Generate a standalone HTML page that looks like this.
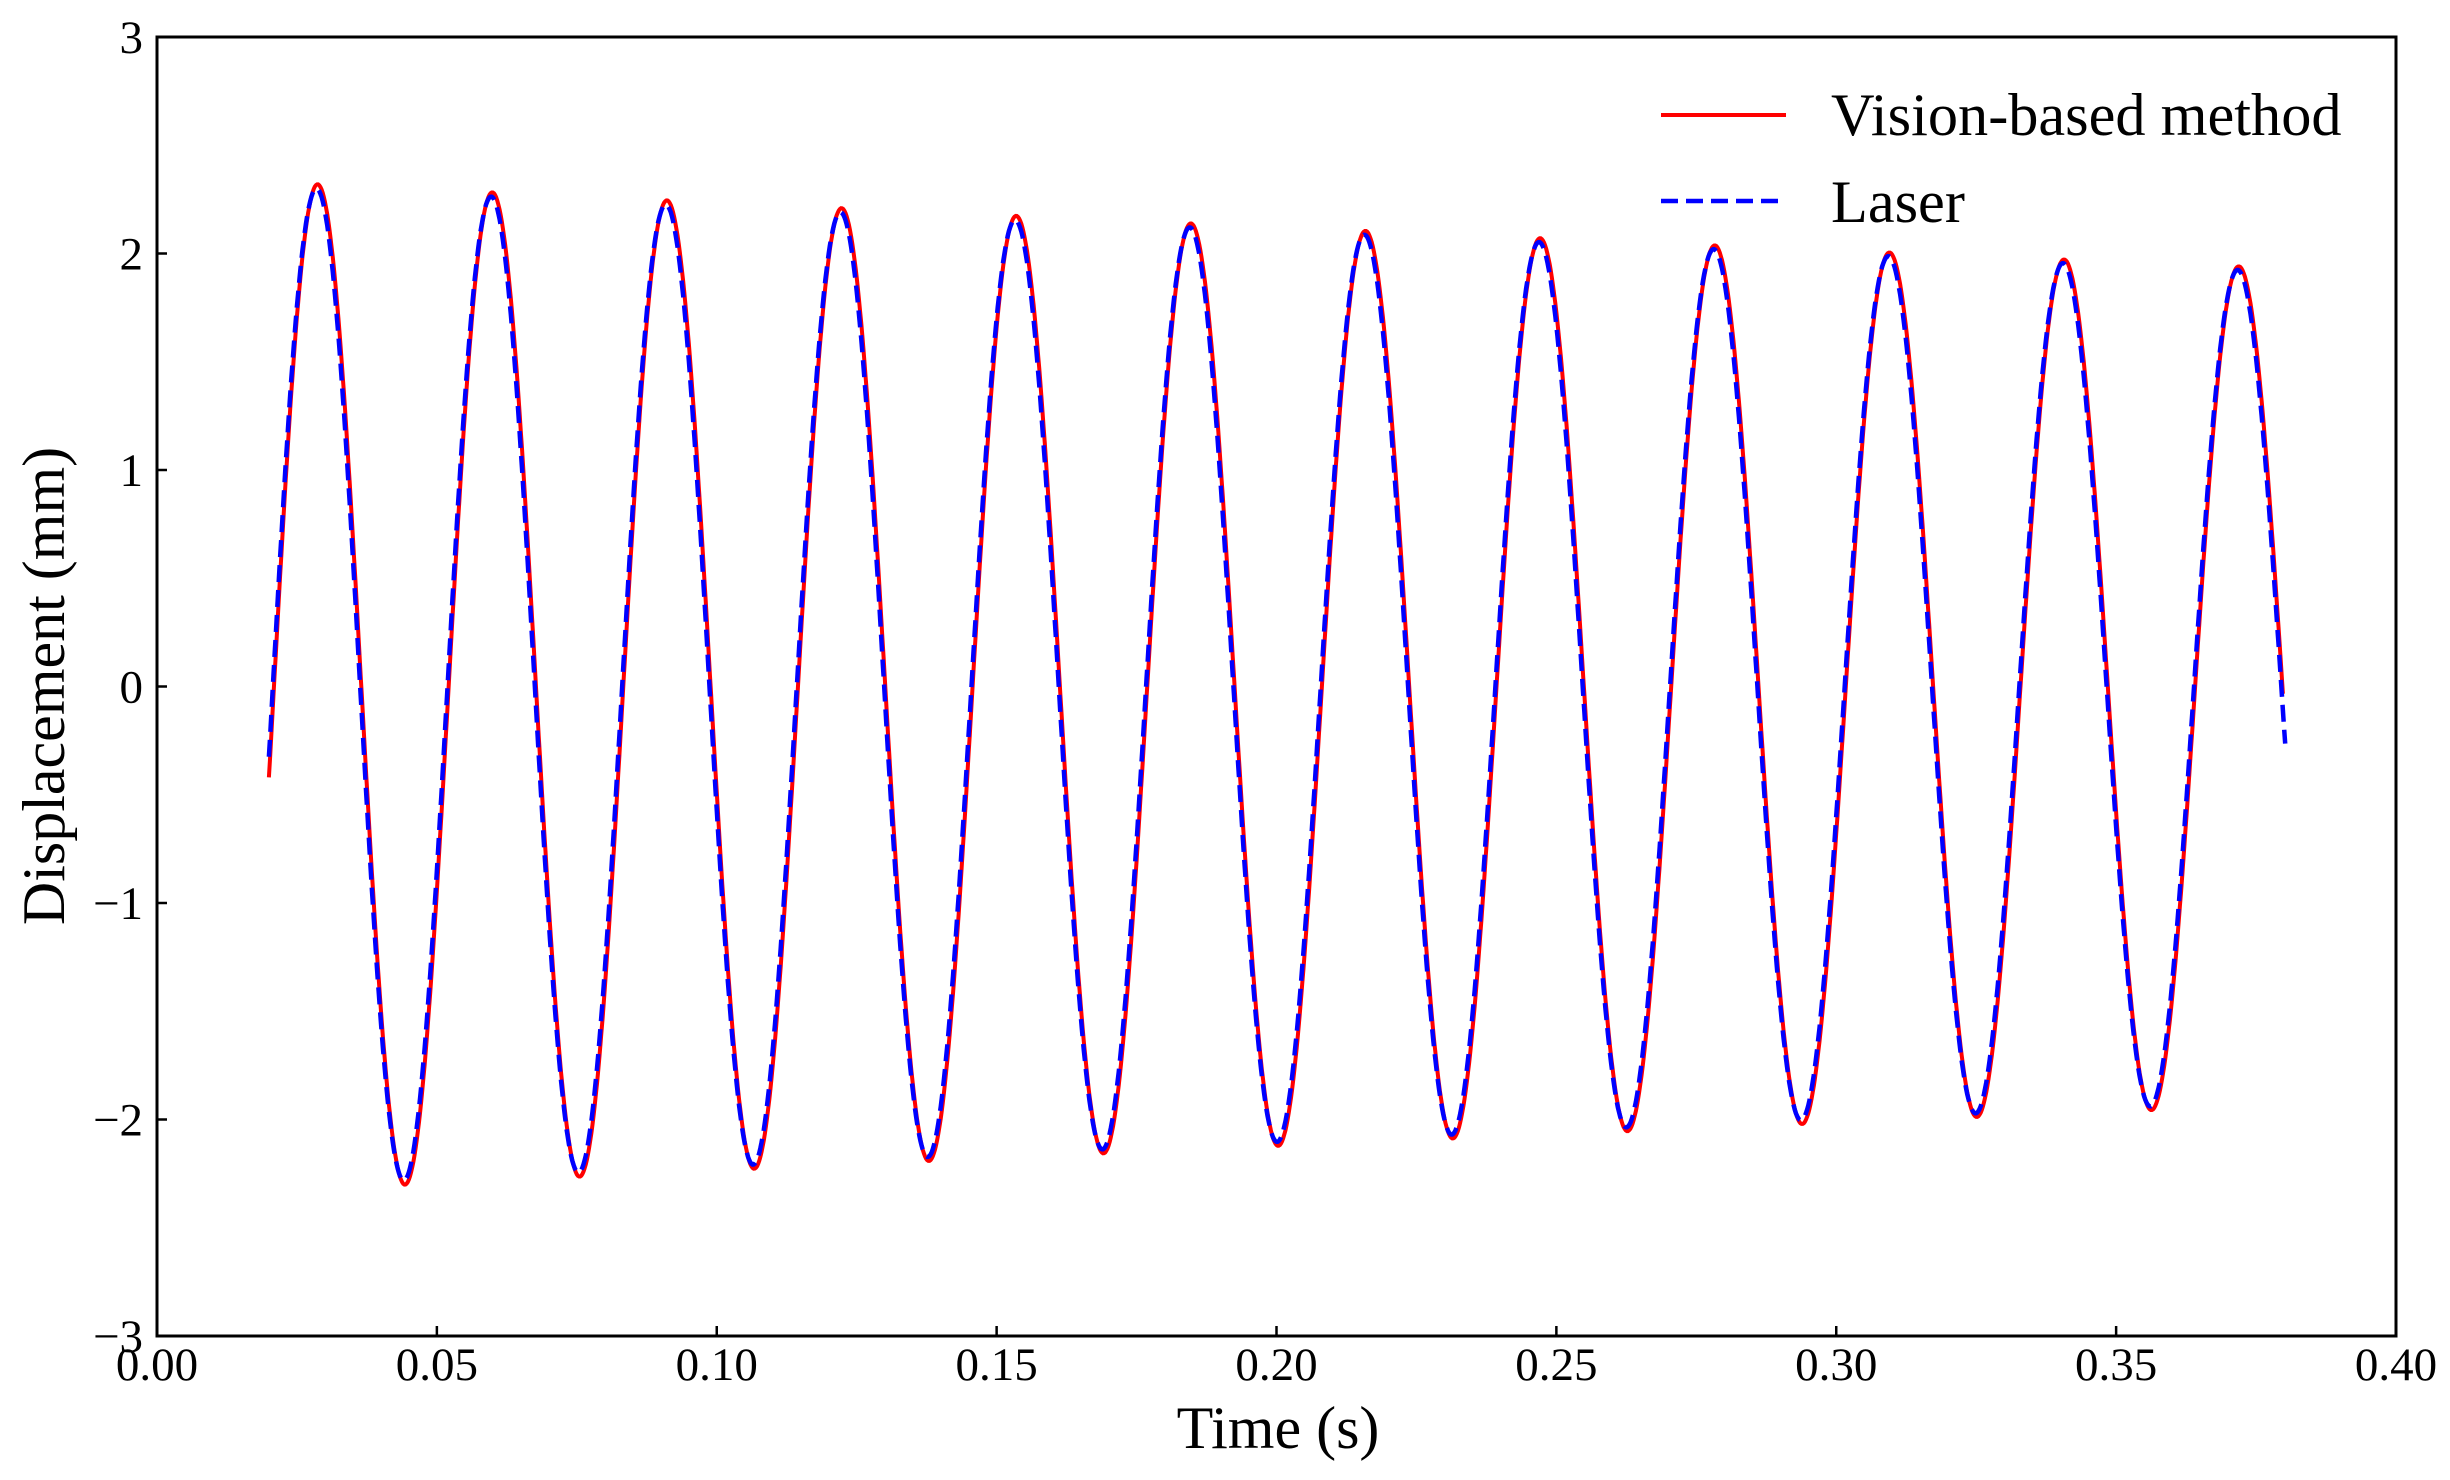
<!DOCTYPE html>
<html><head><meta charset="utf-8"><style>
html,body{margin:0;padding:0;background:#fff;}
svg{display:block;}
text{font-family:"Liberation Serif",serif;fill:#000;}
</style></head><body>
<svg id="s" width="2450" height="1480" viewBox="0 0 2450 1480" xmlns="http://www.w3.org/2000/svg">
<rect width="2450" height="1480" fill="#fff"/>
<g id="plot"></g>
<rect x="157" y="37" width="2239" height="1299" fill="none" stroke="#000" stroke-width="3"/>
<g id="ticks" stroke="#000" stroke-width="2.5"></g>
<g id="labels" font-size="47"></g>
<text x="1278" y="1448" font-size="60" text-anchor="middle">Time (s)</text>
<text transform="translate(64,686) rotate(-90)" font-size="60" text-anchor="middle">Displacement (mm)</text>
<line x1="1661" y1="115" x2="1786" y2="115" stroke="#f00" stroke-width="4"/>
<line x1="1661" y1="201" x2="1786" y2="201" stroke="#00f" stroke-width="4.5" stroke-dasharray="17,8"/>
<text x="1831" y="135" font-size="60.3">Vision-based method</text>
<text x="1831" y="222" font-size="60.3">Laser</text>
</svg>
<script>
var X0=157,W=2239,Y0=686.5,K=216.5,NS="http://www.w3.org/2000/svg";
function px(t){return X0+t/0.4*W;}function py(v){return Y0-v*K;}
function el(n,a,p){var e=document.createElementNS(NS,n);for(var k in a)e.setAttribute(k,a[k]);p.appendChild(e);return e;}
var tk=document.getElementById('ticks'),lb=document.getElementById('labels');
for(var i=0;i<=8;i++){var x=px(i*0.05);if(i>0&&i<8)el('line',{x1:x,y1:1336,x2:x,y2:1326},tk);
var t=el('text',{x:x,y:1380,'text-anchor':'middle'},lb);t.textContent=(i*0.05).toFixed(2);}
for(var v=-3;v<=3;v++){var y=py(v);if(v>-3&&v<3)el('line',{x1:157,y1:y,x2:167,y2:y},tk);
var t=el('text',{x:143,y:y+16,'text-anchor':'end'},lb);t.textContent=(v<0?'\u2212':'')+Math.abs(v);}
function sig(t,ph,a){var A=(2.32+a)*Math.exp(-0.52*(t-0.0284));return A*Math.sin(2*Math.PI*32.05*(t-0.0207+ph));}
function path(ph,a,t1,t2){var d='';for(var t=t1;t<=t2+1e-9;t+=0.0002){d+=(d?'L':'M')+px(t).toFixed(1)+','+py(sig(t,ph,a)).toFixed(1);}return d;}
var g=document.getElementById('plot');
el('path',{d:path(-0.0002,0.0,0.0200,0.3798),fill:'none',stroke:'#f00','stroke-width':4},g);
el('path',{d:path(0.0,-0.02,0.02,0.3802),fill:'none',stroke:'#00f','stroke-width':4.5,'stroke-dasharray':'17,8'},g);
</script>
</body></html>
